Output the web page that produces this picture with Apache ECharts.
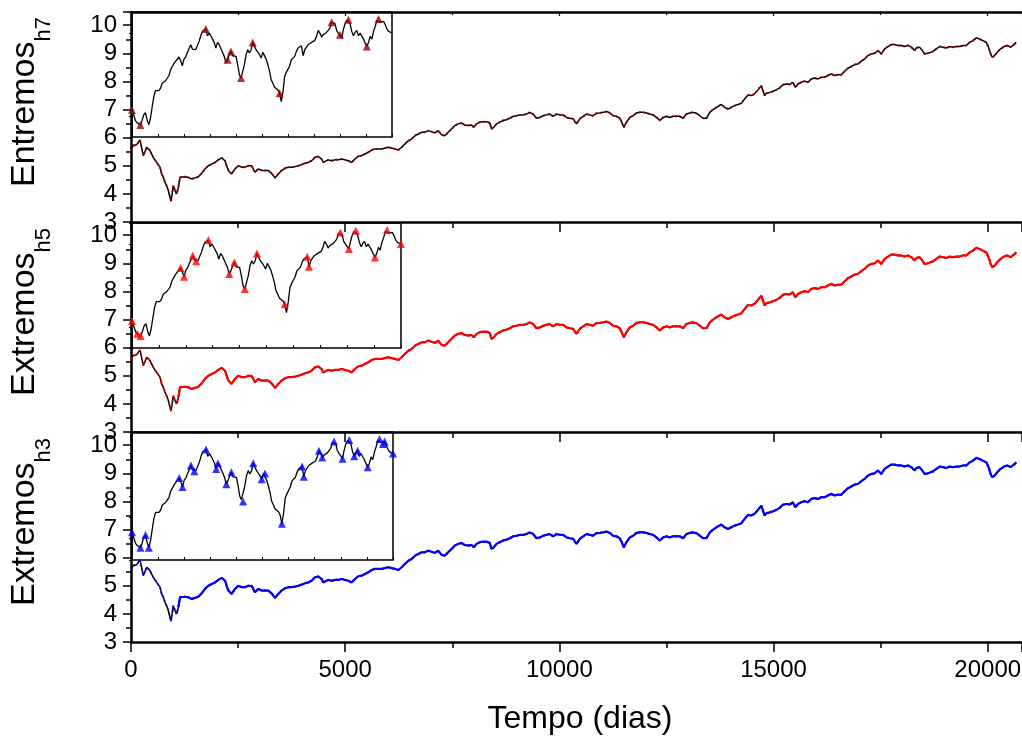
<!DOCTYPE html>
<html><head><meta charset="utf-8">
<script src="https://cdn.jsdelivr.net/npm/echarts@6/dist/echarts.min.js"></script>
<style>html,body{margin:0;padding:0;background:#fff}#c{width:1022px;height:738px}</style>
</head><body><div id="c"></div>
<script>
// ---- main series (days, value) ----
const days = [0,54,132,210,288,366,443,521,599,677,716,755,794,832,871,910,934,988,1027,1066,1105,1144,1183,1260,1338,1416,1455,1494,1572,1649,1727,1805,1883,1961,2038,2116,2194,2233,2272,2350,2427,2505,2583,2661,2739,2816,2855,2894,2972,3050,3128,3205,3283,3361,3439,3517,3594,3672,3750,3828,3906,3983,4061,4139,4217,4295,4372,4450,4489,4528,4606,4684,4762,4840,4917,4995,5073,5151,5229,5306,5384,5462,5540,5618,5695,5773,5851,5929,6007,6084,6162,6240,6318,6396,6474,6551,6629,6707,6785,
6860,6938,7015,7093,7171,7249,7327,7404,7482,7560,7638,7716,7793,7871,7949,8003,8066,8143,8221,8299,8377,8416,8470,8532,8610,8688,8766,8844,8921,8999,9077,9155,9233,9310,9388,9466,9544,9622,9699,9777,9855,9933,10011,10088,10166,10244,10322,10400,10477,10555,10633,10711,10789,10866,10944,11022,11100,11178,11255,11333,11411,11450,11504,11567,11644,11722,11800,11878,11956,12033,12111,12189,12267,12345,12422,12500,12578,12656,12734,12811,12889,12967,13045,13123,13200,13278,13356,13434,13512,13589,13667,
13703,13781,13858,13936,14014,14092,14170,14247,14325,14403,14481,14559,14636,14714,14753,14792,14831,14909,14987,15064,15142,15220,15298,15376,15453,15508,15570,15648,15726,15803,15881,15959,16037,16115,16192,16270,16348,16426,16504,16581,16659,16737,16815,16893,16970,17048,17126,17204,17282,17359,17437,17515,17554,17593,17671,17748,17826,17904,17982,18060,18137,18215,18293,18332,18410,18488,18526,18604,18643,18721,18799,18877,18954,19032,19110,19188,19266,19343,19421,19499,19577,19655,19732,19810,19888,19966,20020,20067,20106,20160,20222,20300,20378,20456,20533,20611,20666];
const values = [5.60,5.72,5.75,5.92,5.36,5.66,5.54,5.30,5.12,4.95,4.71,4.59,4.41,4.29,4.12,3.88,3.74,4.29,4.12,4.00,4.23,4.59,4.65,4.61,4.59,4.53,4.47,4.57,4.61,4.73,4.89,5.00,5.06,5.12,5.21,5.28,5.18,5.00,4.83,4.71,4.89,5.00,4.95,4.95,5.00,5.00,4.97,4.77,4.89,4.83,4.83,4.83,4.73,4.57,4.71,4.83,4.91,4.95,4.95,4.97,5.00,5.04,5.09,5.12,5.18,5.30,5.33,5.24,5.12,5.18,5.21,5.18,5.21,5.21,5.24,5.21,5.18,5.12,5.24,5.34,5.36,5.42,5.48,5.56,5.60,5.60,5.60,5.63,5.66,5.63,5.60,5.56,5.66,5.78,5.89,5.95,6.07,6.13,6.19,
6.19,6.25,6.21,6.17,6.25,6.10,6.07,6.19,6.31,6.43,6.49,6.52,6.45,6.43,6.45,6.37,6.49,6.55,6.57,6.57,6.52,6.31,6.37,6.49,6.55,6.61,6.64,6.69,6.76,6.78,6.81,6.81,6.84,6.90,6.84,6.69,6.72,6.78,6.81,6.84,6.76,6.84,6.81,6.81,6.72,6.69,6.67,6.49,6.67,6.76,6.84,6.81,6.78,6.87,6.88,6.90,6.93,6.88,6.78,6.76,6.69,6.57,6.37,6.55,6.72,6.78,6.88,6.90,6.90,6.88,6.84,6.81,6.72,6.61,6.72,6.76,6.72,6.76,6.76,6.76,6.69,6.84,6.88,6.90,6.87,6.78,6.69,6.69,6.90,7.00,7.08,
7.14,7.18,7.08,7.02,7.08,7.14,7.18,7.22,7.38,7.52,7.50,7.56,7.70,7.85,7.89,7.50,7.58,7.61,7.65,7.70,7.77,7.88,7.91,7.89,7.97,7.79,7.91,7.97,8.01,7.97,8.09,8.12,8.09,8.15,8.15,8.21,8.27,8.21,8.24,8.24,8.36,8.47,8.53,8.60,8.62,8.72,8.80,8.92,8.98,9.00,9.10,8.98,9.00,9.16,9.24,9.31,9.31,9.28,9.28,9.24,9.28,9.22,9.10,9.19,9.22,9.07,8.98,9.00,8.95,9.07,9.16,9.24,9.22,9.19,9.24,9.22,9.24,9.24,9.28,9.28,9.39,9.45,9.55,9.51,9.45,9.39,9.22,8.98,8.86,8.92,9.04,9.16,9.24,9.28,9.22,9.31,9.39];

// ---- inset curve (equally spaced, inset units 0..6) ----
const insetValues = [1.30,1.06,0.79,0.69,0.63,0.58,0.79,1.06,1.17,0.82,
0.58,0.90,1.43,1.94,2.23,2.30,2.23,2.34,2.58,2.66,
2.70,2.78,2.94,3.23,3.26,3.52,3.63,3.71,3.84,3.66,
3.42,3.74,3.84,4.06,4.11,4.43,4.22,4.16,4.19,4.22,
4.59,4.86,5.07,5.15,5.18,4.86,4.99,4.86,4.70,4.54,
4.27,4.54,4.43,4.35,4.06,3.87,3.55,3.71,3.95,4.11,
3.90,3.84,3.87,3.47,2.99,2.83,2.74,3.47,3.95,4.19,
4.03,4.19,4.54,4.35,4.19,4.27,3.95,3.79,4.06,4.06,
3.74,3.47,3.15,2.74,2.58,2.39,2.42,2.26,2.10,1.70,
2.18,2.91,3.10,3.15,3.42,3.71,3.79,3.87,4.11,4.27,
4.27,4.38,3.90,4.19,4.22,4.43,4.35,4.54,4.51,4.64,
4.83,5.12,4.99,4.80,4.91,4.86,5.02,4.94,5.23,5.51,
5.55,5.44,5.12,4.99,4.91,4.75,5.15,5.44,5.60,5.63,
5.44,5.07,4.86,5.02,5.12,4.86,4.99,4.91,4.70,4.51,
4.35,4.54,4.83,4.70,5.07,5.31,5.60,5.67,5.51,5.44,
5.55,5.39,5.18,5.07,5.02,4.99];

// ---- extremes marked in each inset (positions along the inset curve) ----
const markersH7 = [0,5,44,57,59,65,72,88,119,124,129,140,147];
const markersH5 = [0,3,5,28,30,35,37,44,56,59,65,72,88,101,102,120,125,129,140,147,155];
const markersH3 = [0,5,8,10,28,30,35,37,44,50,51,56,59,66,72,77,79,89,101,102,111,113,120,125,129,132,134,140,147,149,150,155];

const panelNames = ['Entremos','Extremos','Extremos'];
const panelSubs = ['h7','h5','h3'];
const xTitle = 'Tempo (dias)';

// ---- layout / style ----
const FONT = 'Liberation Sans, Arial, sans-serif';
const panelTops = [12, 222, 432];
const panelH = 210;
const markColors = ['#9a0000', '#ff0000', '#0000ff'];
const insetBoxes = [
  {left:132, top:12, width:260, height:125},
  {left:132, top:223, width:269, height:125},
  {left:132, top:432, width:261, height:128}
];
const markerSets = [markersH7, markersH5, markersH3];

const mainData = days.map((d, i) => [d, values[i]]);
const lateData = mainData.filter(p => p[0] >= 1100);
const insetData = insetValues.map((v, i) => [i, v]);
const nIn = insetValues.length - 1;

const grid = [];
const xAxis = [];
const yAxis = [];
const series = [];
const graphic = [];

for (let p = 0; p < 3; p++) {
  grid.push({left:131, top:panelTops[p], width:891, height:panelH, outerBoundsMode:'none', containLabel:false});
}
for (let p = 0; p < 3; p++) {
  grid.push(Object.assign({show:true, backgroundColor:'#fff', borderColor:'#000', borderWidth:1.5, outerBoundsMode:'none', containLabel:false}, insetBoxes[p]));
}
// main bottom x axes (0..2)
for (let p = 0; p < 3; p++) {
  xAxis.push({
    type:'value', gridIndex:p, position:'bottom', min:0, max:20800, interval:5000,
    axisLine:{show:true, onZero:false, lineStyle:{color:'#000', width:2.5}},
    axisTick:{show:true, inside:false, length:10, lineStyle:{color:'#000', width:1.5}},
    minorTick:{show:true, splitNumber:2, length:6, lineStyle:{color:'#000', width:1.5}},
    axisLabel:{show:p === 2, showMaxLabel:false, color:'#000', fontSize:24, fontFamily:FONT, margin:16,
      formatter:v => String(v)},
    splitLine:{show:false}, minorSplitLine:{show:false}
  });
}
// top x axis for panel 1 (index 3)
xAxis.push({
  type:'value', gridIndex:0, position:'top', min:0, max:20800, interval:5000,
  axisLine:{show:true, onZero:false, lineStyle:{color:'#000', width:2.5}},
  axisTick:{show:true, inside:true, length:4, lineStyle:{color:'#000', width:1.2}},
  minorTick:{show:true, splitNumber:2, length:3, lineStyle:{color:'#000', width:1.2}},
  axisLabel:{show:false}, splitLine:{show:false}
});
// inset x axes (4..6)
for (let p = 0; p < 3; p++) {
  xAxis.push({
    type:'value', gridIndex:3 + p, position:'bottom', min:0, max:nIn, interval:nIn / 10,
    axisLine:{show:false}, axisTick:{show:true, inside:true, length:3, lineStyle:{color:'#000', width:1}},
    axisLabel:{show:false}, splitLine:{show:false}
  });
}
// main y axes (0..2)
for (let p = 0; p < 3; p++) {
  yAxis.push({
    type:'value', gridIndex:p, min:3, max:10.47, interval:1,
    axisLine:{show:true, onZero:false, lineStyle:{color:'#000', width:2.5}},
    axisTick:{show:true, inside:false, length:8, lineStyle:{color:'#000', width:1.5}},
    minorTick:{show:true, splitNumber:2, length:5, lineStyle:{color:'#000', width:1.5}},
    axisLabel:{show:true, showMaxLabel:false, color:'#000', fontSize:24, fontFamily:FONT, margin:14},
    splitLine:{show:false}, minorSplitLine:{show:false}
  });
}
// inset y axes (3..5)
for (let p = 0; p < 3; p++) {
  yAxis.push({
    type:'value', gridIndex:3 + p, position:'right', min:0, max:6, interval:1,
    axisLine:{show:false}, axisTick:{show:true, inside:true, length:3, lineStyle:{color:'#000', width:1}},
    axisLabel:{show:false}, splitLine:{show:false}
  });
}

for (let p = 0; p < 3; p++) {
  series.push({type:'line', xAxisIndex:p, yAxisIndex:p, data:mainData, showSymbol:false,
    lineStyle:{color:'#000', width:1.5}, z:2, silent:true});
  series.push({type:'line', xAxisIndex:p, yAxisIndex:p, data:mainData, showSymbol:false,
    lineStyle:{color:markColors[p], width:2, type:[1.5, 3]}, z:3, silent:true});
  if (p > 0) {
    series.push({type:'line', xAxisIndex:p, yAxisIndex:p, data:lateData, showSymbol:false,
      lineStyle:{color:markColors[p], width:2.2}, z:4, silent:true});
  }
  series.push({type:'line', xAxisIndex:4 + p, yAxisIndex:3 + p, data:insetData, showSymbol:false,
    lineStyle:{color:'#000', width:1.3}, z:5, silent:true});
  series.push({type:'scatter', xAxisIndex:4 + p, yAxisIndex:3 + p,
    data:markerSets[p].map(i => [i, insetValues[i]]),
    symbol:'triangle', symbolSize:8, itemStyle:{color:markColors[p]}, z:6, silent:true});

  graphic.push({
    type:'text', x:25, y:panelTops[p] + 90, rotation:Math.PI / 2,
    style:{
      text:'{a|' + panelNames[p] + '}{b|' + panelSubs[p] + '}',
      align:'center', verticalAlign:'middle', fill:'#000',
      rich:{
        a:{fontSize:34, fontFamily:FONT, fill:'#000'},
        b:{fontSize:22, fontFamily:FONT, fill:'#000', padding:[38, 0, 0, 0]}
      }
    }
  });
}
graphic.push({type:'text', x:580, y:719,
  style:{text:xTitle, fontSize:32, fontFamily:FONT, fill:'#000', align:'center', verticalAlign:'middle'}});

const chart = echarts.init(document.getElementById('c'), null, {renderer:'canvas'});
chart.setOption({
  animation:false, backgroundColor:'#fff',
  grid, xAxis, yAxis, series, graphic
});
</script></body></html>
